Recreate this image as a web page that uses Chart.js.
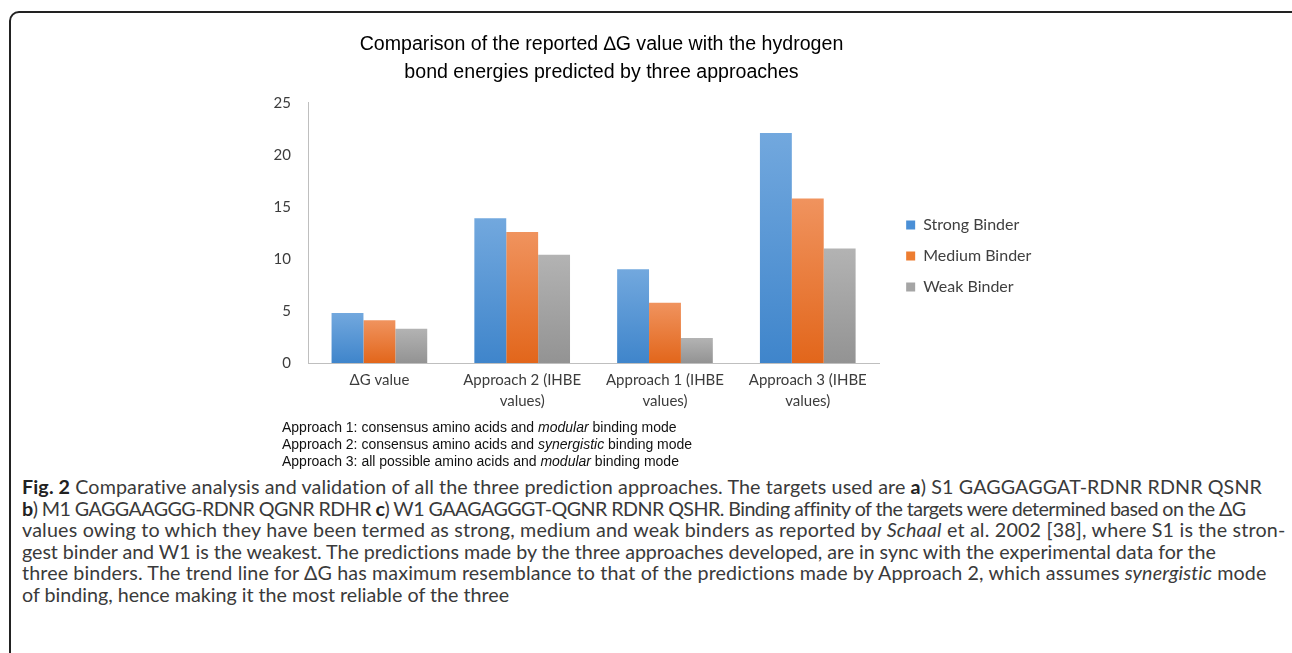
<!DOCTYPE html>
<html>
<head>
<meta charset="utf-8">
<script src="https://cdn.jsdelivr.net/npm/chart.js@4.4.1/dist/chart.umd.min.js"></script>
<style>
  body { margin: 0; background: #fff; width: 1292px; height: 653px; overflow: hidden; position: relative; }
  .frame { position: absolute; left: 9px; top: 11px; width: 1320px; height: 700px; border: 2px solid #222; border-radius: 10px; }
  .chart-box { position: absolute; left: 0; top: 0; width: 1292px; height: 426px; }
  .notes { position: absolute; left: 282px; top: 419px; font: 14px "Liberation Sans", Arial, sans-serif; line-height: 17px; color: #111; }
  .caption { position: absolute; left: 22px; top: 476px; font: 19.7px Lato, "Open Sans", sans-serif; line-height: 21.5px; color: #3a3a3a; white-space: nowrap; }
  .caption b { color: #222; }
</style>
</head>
<body>
<div class="frame"></div>
<div class="chart-box"><canvas id="bindChart"></canvas></div>
<div class="notes">
  Approach 1: consensus amino acids and <i>modular</i> binding mode<br>
  Approach 2: consensus amino acids and <i>synergistic</i> binding mode<br>
  Approach 3: all possible amino acids and <i>modular</i> binding mode
</div>
<div class="caption">
  <span style="letter-spacing:0.12px"><b>Fig. 2</b> Comparative analysis and validation of all the three prediction approaches. The targets used are <b>a</b>) S1 GAGGAGGAT-RDNR RDNR QSNR</span><br>
  <span style="letter-spacing:-0.56px"><b>b</b>) M1 GAGGAAGGG-RDNR QGNR RDHR <b>c</b>) W1 GAAGAGGGT-QGNR RDNR QSHR. Binding affinity of the targets were determined based on the ΔG</span><br>
  <span style="letter-spacing:0.19px">values owing to which they have been termed as strong, medium and weak binders as reported by <i>Schaal</i> et al. 2002 [38], where S1 is the stron-</span><br>
  <span style="letter-spacing:-0.05px">gest binder and W1 is the weakest. The predictions made by the three approaches developed, are in sync with the experimental data for the</span><br>
  <span style="letter-spacing:0.12px">three binders. The trend line for ΔG has maximum resemblance to that of the predictions made by Approach 2, which assumes <i>synergistic</i> mode</span><br>
  of binding, hence making it the most reliable of the three
</div>
<script>
// Chart data
const categories = [
    ['ΔG value'],
    ['Approach 2 (IHBE', 'values)'],
    ['Approach 1 (IHBE', 'values)'],
    ['Approach 3 (IHBE', 'values)']
];
const strongBinder = [4.8, 13.9, 9.0, 22.1];
const mediumBinder = [4.1, 12.6, 5.8, 15.8];
const weakBinder = [3.3, 10.4, 2.4, 11.0];
const yTicks = [0, 5, 10, 15, 20, 25];

const chartTitle = ['Comparison of the reported \u2206G value with the hydrogen', 'bond energies predicted by three approaches'];

// Excel-like vertical gradient for each bar
function barGradient(top, bottom) {
    return function(ctx) {
        const chart = ctx.chart;
        if (!chart.chartArea || ctx.type !== 'data') return bottom;
        const y = chart.scales.y;
        const yTop = y.getPixelForValue(ctx.raw);
        const yBase = y.getPixelForValue(0);
        const g = chart.ctx.createLinearGradient(0, yTop, 0, yBase);
        g.addColorStop(0, top);
        g.addColorStop(1, bottom);
        return g;
    };
}

const flatColors = ['#4a8fd6', '#ed7d31', '#a5a5a5'];

document.addEventListener('DOMContentLoaded', function() {
    const ctx = document.getElementById('bindChart');
    new Chart(ctx, {
        type: 'bar',
        data: {
            labels: categories,
            datasets: [
                { label: 'Strong Binder', data: strongBinder, backgroundColor: barGradient('#72a8de', '#3f85cb') },
                { label: 'Medium Binder', data: mediumBinder, backgroundColor: barGradient('#f0935e', '#e2661b') },
                { label: 'Weak Binder', data: weakBinder, backgroundColor: barGradient('#b3b3b3', '#939393') }
            ]
        },
        options: {
            responsive: true,
            maintainAspectRatio: false,
            animation: false,
            datasets: {
                bar: { categoryPercentage: 0.67, barPercentage: 1.0, borderWidth: 0 }
            },
            layout: { padding: { top: 0, right: 256, bottom: 7, left: 167 } },
            plugins: {
                title: {
                    display: true,
                    text: chartTitle,
                    color: '#000',
                    font: { family: '"Liberation Sans", Arial, sans-serif', size: 19.6, weight: 'normal', lineHeight: 1.45 },
                    padding: { top: 30, bottom: 16 }
                },
                legend: {
                    position: 'right',
                    // empty title only pushes the items down to where they sit in the figure
                    title: { display: true, text: ' ', font: { size: 10, lineHeight: 1 }, padding: { top: 0, bottom: 83 } },
                    labels: {
                        boxWidth: 9,
                        boxHeight: 9,
                        padding: 15,
                        color: '#404040',
                        font: { family: 'Lato, sans-serif', size: 16 },
                        generateLabels: function(chart) {
                            const items = Chart.defaults.plugins.legend.labels.generateLabels(chart);
                            items.forEach((it, i) => {
                                it.fillStyle = flatColors[i];
                                it.strokeStyle = flatColors[i];
                                it.lineWidth = 0;
                            });
                            return items;
                        }
                    }
                },
                tooltip: { enabled: false }
            },
            scales: {
                x: {
                    grid: { display: false, drawTicks: false, tickLength: 0 },
                    border: { color: '#bfbfbf', width: 1 },
                    ticks: {
                        color: '#3c3c3c',
                        font: { family: 'Lato, sans-serif', size: 15, lineHeight: 1.4 },
                        padding: 7,
                        maxRotation: 0
                    }
                },
                y: {
                    min: 0,
                    max: 25,
                    afterBuildTicks: function(scale) {
                        scale.ticks = yTicks.map(v => ({ value: v }));
                    },
                    afterFit: function(scale) { scale.width = 141; },
                    grid: { display: false, drawTicks: false, tickLength: 0 },
                    border: { color: '#bfbfbf', width: 1 },
                    ticks: {
                        color: '#3c3c3c',
                        font: { family: 'Lato, sans-serif', size: 15 },
                        padding: 17
                    }
                },
                gap: {
                    type: 'linear',
                    position: 'right',
                    grid: { display: false },
                    border: { display: false },
                    ticks: { display: false },
                    afterFit: function(scale) { scale.width = 12; }
                }
            }
        }
    });
});
</script>
</body>
</html>
